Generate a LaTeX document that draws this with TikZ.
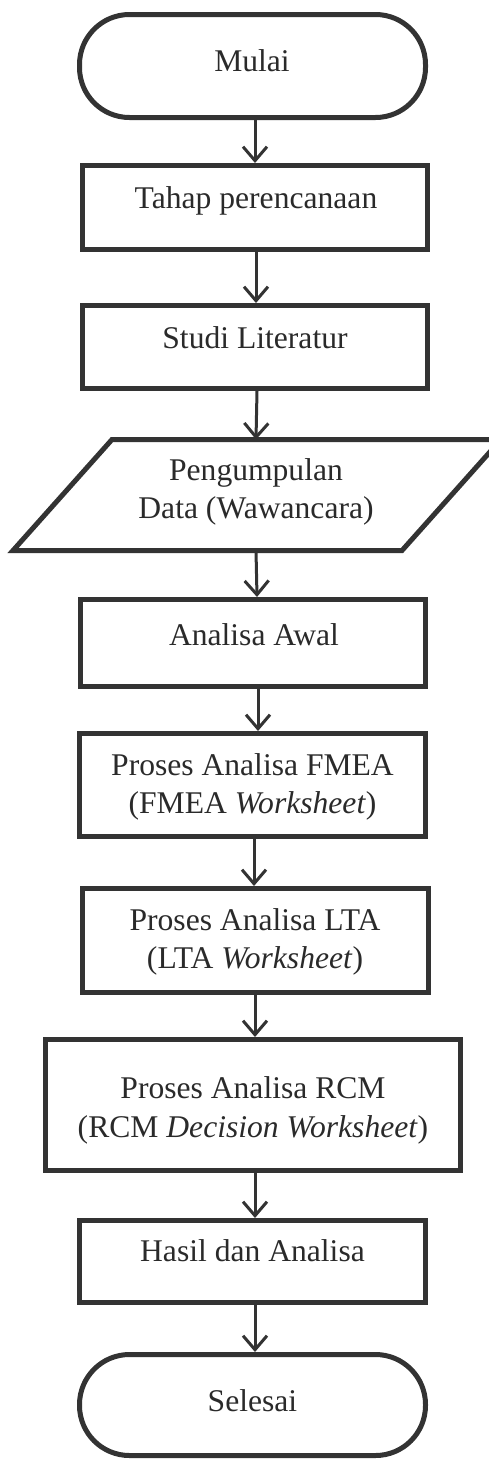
\documentclass[tikz,border=0pt]{standalone}
\usepackage{fontspec}
\setmainfont{Liberation Serif}
\usetikzlibrary{arrows.meta}
\definecolor{ink}{HTML}{333333}
\definecolor{txt}{HTML}{2A2A2A}
\begin{document}
\begin{tikzpicture}[x=1pt,y=-1pt,
  boxline/.style={draw=ink,line width=5pt},
  stepbox/.style={boxline,rectangle,inner sep=0pt,minimum width=#1},
  term/.style={boxline,rectangle,inner sep=0pt,minimum width=346pt,rounded corners=50pt},
  lbl/.style={anchor=base,inner sep=0pt,text=txt,font=\fontsize{31.6}{36}\selectfont},
  flow/.style={draw=ink,line width=3pt,-{Straight Barb[length=14pt,width=24pt,line width=3pt]}}]
\useasboundingbox (0,0) rectangle (489,1459);
\clip (0,0) rectangle (489,1459);
% shapes
\node[term,minimum height=103pt] (mulai) at (252.5,66) {};
\node[stepbox=345pt,minimum height=84pt] (tahap) at (255,207.5) {};
\node[stepbox=345pt,minimum height=83pt] (studi) at (255,347) {};
\draw[boxline,line join=miter] (112,439.5) -- (501,439.5) -- (402,550.5) -- (13,550.5) -- cycle;
\coordinate (partop) at (256,439.5);
\coordinate (parbot) at (256,550.5);
\node[stepbox=345pt,minimum height=87pt] (awal) at (253,643) {};
\node[stepbox=346pt,minimum height=103pt] (fmea) at (252.5,785) {};
\node[stepbox=346pt,minimum height=104pt] (lta) at (255.5,940.5) {};
\node[stepbox=415pt,minimum height=131pt] (rcm) at (253,1105) {};
\node[stepbox=346pt,minimum height=82pt] (hasil) at (252.5,1261.5) {};
\node[term,minimum height=101pt] (selesai) at (252.5,1405) {};
% texts
\node[lbl] (tmulai) at (252,71) {Mulai};
\node[lbl] (ttahap) at (256,208) {Tahap perencanaan};
\node[lbl] (tstudi) at (255,348) {Studi Literatur};
\node[lbl] (tpar1) at (256,480) {Pengumpulan};
\node[lbl] (tpar2) at (256,518) {Data (Wawancara)};
\node[lbl] (tawal) at (254,645) {Analisa Awal};
\node[lbl] (tfmea1) at (252.5,775) {Proses Analisa FMEA};
\node[lbl] (tfmea2) at (252.5,813) {(FMEA \textit{Worksheet})};
\node[lbl] (tlta1) at (255,930) {Proses Analisa LTA};
\node[lbl] (tlta2) at (255,968) {(LTA \textit{Worksheet})};
\node[lbl] (trcm1) at (253,1098) {Proses Analisa RCM};
\node[lbl] (trcm2) at (253,1137) {(RCM \textit{Decision Worksheet})};
\node[lbl] (thasil) at (252.5,1261) {Hasil dan Analisa};
\node[lbl] (tselesai) at (252.5,1411) {Selesai};
% connectors
\draw[flow] (255,0 |- mulai.south) -- (255,0 |- tahap.north);
\draw[flow] (256,0 |- tahap.south) -- (256,0 |- studi.north);
\draw[flow] (257,0 |- studi.south) -- (partop);
\draw[flow] (parbot) -- (257,0 |- awal.north);
\draw[flow] (258,0 |- awal.south) -- (258,0 |- fmea.north);
\draw[flow] (254,0 |- fmea.south) -- (254,0 |- lta.north);
\draw[flow] (255,0 |- lta.south) -- (255,0 |- rcm.north);
\draw[flow] (255,0 |- rcm.south) -- (255,0 |- hasil.north);
\draw[flow] (255,0 |- hasil.south) -- (255,0 |- selesai.north);
\end{tikzpicture}
\end{document}
